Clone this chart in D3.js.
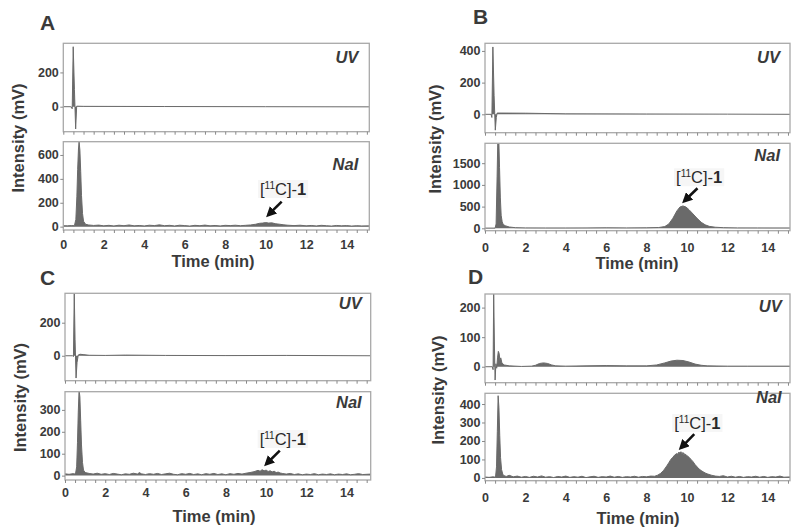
<!DOCTYPE html>
<html><head><meta charset="utf-8">
<script src="https://cdn.jsdelivr.net/npm/d3@7"></script>
<style>
body{margin:0;background:#fff;}
svg{display:block;font-family:"Liberation Sans",Arial,sans-serif;}
</style></head>
<body>
<svg id="chart" width="800" height="529"></svg>
<script>
// ---------- DATA ----------
const timeTicks = [0, 2, 4, 6, 8, 10, 12, 14];
const minorTimeTicks = [0,0.5,1,1.5,2,2.5,3,3.5,4,4.5,5,5.5,6,6.5,7,7.5,8,8.5,9,9.5,10,10.5,11,11.5,12,12.5,13,13.5,14,14.5,15];

const uvA = [[0,0],[0.37,0],[0.44,-12],[0.49,350],[0.55,100],[0.61,-130],[0.66,3],[1.0,2],[5,1],[10,0],[15.2,-1]];
const naiA = [[0,8],[0.2,7],[0.4,9],[0.55,8],[0.62,60],[0.67,250],[0.71,480],[0.75,650],[0.78,710],[0.82,640],[0.86,460],[0.9,260],[0.95,110],[1.0,45],[1.1,20],[1.25,14],[1.5,10],[1.75,13],[2.0,7],[2.25,11],[2.5,6],[2.75,12],[3.0,8],[3.25,14],[3.5,7],[3.75,10],[4.0,6],[4.25,12],[4.5,9],[4.75,15],[5.0,8],[5.25,11],[5.5,6],[5.75,12],[6.0,9],[6.25,5],[6.5,11],[6.75,8],[7.0,13],[7.25,7],[7.5,10],[7.75,6],[8.0,11],[8.25,9],[8.5,12],[8.75,8],[9.0,11],[9.25,14],[9.5,20],[9.7,28],[9.85,30],[10.0,34],[10.15,30],[10.3,32],[10.5,24],[10.7,20],[10.9,15],[11.1,12],[11.4,9],[11.7,12],[12.0,7],[12.25,10],[12.5,6],[12.75,11],[13.0,8],[13.25,5],[13.5,10],[13.75,7],[14.0,9],[14.25,5],[14.5,8],[14.75,6],[15.2,7]];

const uvB = [[0,0],[0.3,0],[0.34,-20],[0.39,425],[0.45,120],[0.51,-100],[0.56,-20],[0.6,8],[2,7],[4,3],[8,2],[12,1],[15.2,0]];
const naiB = [[0,5],[0.5,5],[0.55,100],[0.6,1200],[0.64,2200],[0.68,2100],[0.72,1400],[0.76,700],[0.8,300],[0.85,150],[0.9,90],[1.0,60],[1.2,30],[1.5,15],[2,10],[3,8],[4,8],[5,9],[6,12],[7,10],[8,12],[8.6,18],[8.9,40],[9.1,100],[9.3,230],[9.5,400],[9.65,490],[9.8,515],[9.95,490],[10.1,430],[10.3,330],[10.5,230],[10.7,140],[10.9,80],[11.1,45],[11.4,25],[11.8,15],[12.5,10],[13.5,9],[15.2,8]];

const uvC = [[0,0],[0.38,0],[0.42,-5],[0.46,380],[0.5,100],[0.55,-135],[0.6,-40],[0.66,5],[0.75,9],[0.9,7],[1.2,3],[2,2],[3,4],[5,2],[8,1],[11,2],[15.2,0]];
const naiC = [[0,8],[0.2,6],[0.4,9],[0.52,7],[0.58,40],[0.62,150],[0.66,290],[0.7,390],[0.74,360],[0.78,250],[0.82,140],[0.87,60],[0.92,25],[1.0,14],[1.2,10],[1.4,7],[1.6,11],[1.8,6],[2.0,9],[2.2,5],[2.4,10],[2.6,7],[2.8,4],[3.0,8],[3.2,6],[3.4,11],[3.6,7],[3.7,14],[3.8,8],[4.0,5],[4.2,9],[4.4,6],[4.6,10],[4.8,5],[5.0,8],[5.2,11],[5.4,6],[5.6,4],[5.8,9],[6.0,6],[6.2,10],[6.4,5],[6.6,8],[6.8,4],[7.0,9],[7.2,6],[7.4,10],[7.6,5],[7.8,8],[8.0,4],[8.2,9],[8.4,6],[8.6,10],[8.8,7],[9.0,11],[9.2,14],[9.4,18],[9.6,24],[9.7,20],[9.8,27],[9.9,22],[10.0,25],[10.1,19],[10.2,22],[10.3,17],[10.4,20],[10.5,14],[10.6,16],[10.7,12],[10.8,10],[11.0,7],[11.2,10],[11.4,5],[11.6,8],[11.8,4],[12.0,7],[12.2,5],[12.4,9],[12.6,4],[12.8,7],[13.0,5],[13.2,8],[13.4,4],[13.6,7],[13.8,5],[14.0,8],[14.2,4],[14.4,6],[14.6,9],[14.8,5],[15.2,7]];

const uvD = [[0,0],[0.36,0],[0.4,-10],[0.43,250],[0.47,60],[0.5,-45],[0.54,10],[0.58,-5],[0.62,30],[0.66,52],[0.7,45],[0.74,20],[0.78,30],[0.84,12],[0.95,6],[1.2,3],[1.8,1],[2.3,2],[2.5,5],[2.7,11],[2.9,13],[3.1,11],[3.3,6],[3.5,3],[4,2],[5,3],[6,4],[7,3],[8,3],[8.5,6],[8.9,13],[9.2,19],[9.5,22],[9.8,21],[10.1,16],[10.4,9],[10.7,5],[11,3],[12,2],[13,2],[15.2,2]];
const naiD = [[0,5],[0.2,3],[0.4,6],[0.52,4],[0.57,60],[0.61,250],[0.65,445],[0.69,380],[0.73,230],[0.77,110],[0.82,45],[0.88,20],[0.95,12],[1.05,8],[1.2,14],[1.4,6],[1.6,10],[1.8,4],[2.0,8],[2.2,3],[2.4,9],[2.6,5],[2.8,11],[3.0,4],[3.2,7],[3.4,2],[3.6,8],[3.8,5],[4.0,10],[4.2,3],[4.4,7],[4.6,4],[4.8,9],[5.0,2],[5.2,6],[5.4,9],[5.6,3],[5.8,7],[6.0,5],[6.2,10],[6.4,4],[6.6,8],[6.8,3],[7.0,7],[7.2,5],[7.4,9],[7.6,4],[7.8,8],[8.0,6],[8.2,10],[8.4,9],[8.55,15],[8.7,25],[8.85,42],[9.0,65],[9.1,82],[9.2,100],[9.3,112],[9.4,125],[9.5,132],[9.55,128],[9.6,140],[9.65,133],[9.7,142],[9.75,130],[9.8,138],[9.85,126],[9.9,131],[10.0,120],[10.1,112],[10.2,100],[10.3,88],[10.4,72],[10.5,60],[10.6,48],[10.7,40],[10.8,33],[10.9,27],[11.0,22],[11.2,15],[11.4,10],[11.6,8],[11.8,12],[12.0,5],[12.2,9],[12.4,4],[12.6,8],[12.8,3],[13.0,7],[13.2,5],[13.4,9],[13.6,4],[13.8,8],[14.0,3],[14.2,7],[14.4,5],[14.6,10],[14.8,4],[15.2,6]];

const uvTicksA = [0, 200], naiTicksA = [0, 200, 400, 600];
const uvTicksB = [0, 200, 400], naiTicksB = [0, 500, 1000, 1500];
const uvTicksC = [0, 200], naiTicksC = [0, 100, 200, 300];
const uvTicksD = [0, 100, 200], naiTicksD = [0, 100, 200, 300, 400];

// product annotation: [label t, label v, arrow tail t, tail v, arrow tip t, tip v] in NaI data units
const annotA = [9.72, 265, 10.79, 209, 10.13, 98];
const annotB = [9.46, 1037, 10.52, 922, 9.87, 629];
const annotC = [9.68, 140, 10.68, 114, 10.01, 53];
const annotD = [9.37, 265, 10.36, 237, 9.70, 163];

// ---------- LAYOUT ----------
const panels = [
  {id:"A", uv:uvA, nai:naiA, uvT:uvTicksA, naiT:naiTicksA, an:annotA,
   L:63.3, R:369.3, uvTop:43.3, uvBot:131.7, naiTop:141.7, naiBot:230, xMax:15.12,
   uvDom:[-146,370], naiDom:[-28,711], letter:[40,29.5], ylab:[18.3,138], tlab:[213,267], pad:7.4,
   uvLab:[358.3,63.3], naiLab:[358.3,170]},
  {id:"B", uv:uvB, nai:naiB, uvT:uvTicksB, naiT:naiTicksB, an:annotB,
   L:485, R:790, uvTop:43.3, uvBot:132.7, naiTop:143.3, naiBot:230.7, xMax:15.1,
   uvDom:[-116,448], naiDom:[-55,1958], letter:[473,23.5], ylab:[435,139], tlab:[637,269], pad:9.1,
   uvLab:[780,62.7], naiLab:[780,160.7]},
  {id:"C", uv:uvC, nai:naiC, uvT:uvTicksC, naiT:naiTicksC, an:annotC,
   L:65, R:370.7, uvTop:293.3, uvBot:380.7, naiTop:391.7, naiBot:480, xMax:15.2,
   uvDom:[-151,378], naiDom:[-20,383], letter:[40,285], ylab:[20,397.5], tlab:[214,522], pad:5.4,
   uvLab:[361.7,309], naiLab:[361.7,408]},
  {id:"D", uv:uvD, nai:naiD, uvT:uvTicksD, naiT:naiTicksD, an:annotD,
   L:485, R:790, uvTop:294, uvBot:382.7, naiTop:393.3, naiBot:480.7, xMax:15.1,
   uvDom:[-54,246], naiDom:[-15,458], letter:[468,284], ylab:[438,390], tlab:[638,524], pad:9.1,
   uvLab:[781.7,311.7], naiLab:[781.7,403]}
];

const TXT = "#3a3a3a", BOX = "#a8a8a8", TRACE = "#6a6a6a", FILL = "#6a6a6a";
const svg = d3.select("#chart");
const defs = svg.append("defs");
defs.append("marker").attr("id","arrow").attr("viewBox","0 0 10 10").attr("refX",7).attr("refY",5)
  .attr("markerWidth",4).attr("markerHeight",4).attr("orient","auto")
  .append("path").attr("d","M0,0 L10,5 L0,10 z").attr("fill","#111");

panels.forEach((p, pi) => {
  const g = svg.append("g");
  const x = d3.scaleLinear().domain([0, p.xMax]).range([p.L, p.R]);
  const subs = [
    {data:p.uv, ticks:p.uvT, dom:p.uvDom, top:p.uvTop, bot:p.uvBot, lab:"UV", lp:p.uvLab, key:"uv"},
    {data:p.nai, ticks:p.naiT, dom:p.naiDom, top:p.naiTop, bot:p.naiBot, lab:"NaI", lp:p.naiLab, key:"nai"}
  ];
  let naiY;
  subs.forEach(s => {
    const y = d3.scaleLinear().domain(s.dom).range([s.bot, s.top]);
    if (s.key === "nai") naiY = y;
    const cid = "clip" + p.id + s.key;
    defs.append("clipPath").attr("id", cid).append("rect")
      .attr("x", p.L).attr("y", s.top).attr("width", p.R - p.L).attr("height", s.bot - s.top);
    const area = d3.area().x(d => x(d[0])).y0(y(0)).y1(d => y(d[1]));
    const line = d3.line().x(d => x(d[0])).y(d => y(d[1]));
    const cg = g.append("g").attr("clip-path", `url(#${cid})`);
    cg.append("path").datum(s.data).attr("d", area).attr("fill", FILL).attr("stroke","none");
    cg.append("path").datum(s.data).attr("d", line).attr("fill","none").attr("stroke",TRACE).attr("stroke-width",1);
    g.append("rect").attr("x", p.L).attr("y", s.top).attr("width", p.R - p.L).attr("height", s.bot - s.top)
      .attr("fill","none").attr("stroke",BOX).attr("stroke-width",1.3);
    // y axis
    const ya = g.append("g").attr("transform", `translate(${p.L},0)`)
      .call(d3.axisLeft(y).tickValues(s.ticks).tickSize(3).tickPadding(1.5).tickFormat(d3.format("d")));
    ya.select(".domain").remove();
    ya.selectAll("line").attr("stroke", "#888");
    ya.selectAll("text").attr("fill", TXT).attr("font-size", 12.5).attr("font-weight","bold")
      .attr("font-family",'"Liberation Sans",Arial,sans-serif');
    // minor x ticks
    const xa = g.append("g").attr("transform", `translate(0,${s.bot})`)
      .call(d3.axisBottom(x).tickValues(minorTimeTicks.filter(t => t <= p.xMax)).tickSize(3).tickFormat(""));
    xa.select(".domain").remove();
    xa.selectAll("line").attr("stroke", "#888");
    // sub label
    g.append("text").attr("x", s.lp[0]).attr("y", s.lp[1]).attr("text-anchor","end")
      .attr("font-size", 16.5).attr("font-weight","bold").attr("font-style","italic").attr("fill", TXT).text(s.lab);
  });
  // x tick labels
  const xl = g.append("g").attr("transform", `translate(0,${p.naiBot})`)
    .call(d3.axisBottom(x).tickValues(timeTicks).tickSize(3).tickPadding(p.pad).tickFormat(d3.format("d")));
  xl.select(".domain").remove();
  xl.selectAll("line").remove();
  xl.selectAll("text").attr("fill", TXT).attr("font-size", 12.5).attr("font-weight","bold")
    .attr("font-family",'"Liberation Sans",Arial,sans-serif');
  // axis titles
  g.append("text").attr("x", p.tlab[0]).attr("y", p.tlab[1]).attr("text-anchor","middle")
    .attr("font-size", 16.5).attr("font-weight","bold").attr("fill", TXT).text("Time (min)");
  g.append("text").attr("transform", `translate(${p.ylab[0]},${p.ylab[1]}) rotate(-90)`)
    .attr("text-anchor","middle").attr("dominant-baseline","central")
    .attr("font-size", 16.5).attr("font-weight","bold").attr("fill", TXT).text("Intensity (mV)");
  g.append("text").attr("x", p.letter[0]).attr("y", p.letter[1])
    .attr("font-size", 21).attr("font-weight","bold").attr("fill", TXT).text(p.id);
  // annotation
  const a = p.an;
  const lt = g.append("text").attr("x", x(a[0])).attr("y", naiY(a[1]))
    .attr("font-size", 16.5).attr("fill", "#2a2a2a");
  lt.append("tspan").text("[");
  lt.append("tspan").attr("font-size", 10).attr("dy", -6).text("11");
  lt.append("tspan").attr("dy", 6).text("C]-");
  lt.append("tspan").attr("font-weight","bold").text("1");
  const bb = lt.node().getBBox();
  g.insert("rect", () => lt.node()).attr("x", bb.x - 2).attr("y", bb.y).attr("width", bb.width + 4)
    .attr("height", bb.height).attr("fill", "#f6f6f6");
  g.append("line").attr("x1", x(a[2])).attr("y1", naiY(a[3])).attr("x2", x(a[4])).attr("y2", naiY(a[5]))
    .attr("stroke", "#111").attr("stroke-width", 2.6).attr("marker-end", "url(#arrow)");
});
</script>
</body></html>
